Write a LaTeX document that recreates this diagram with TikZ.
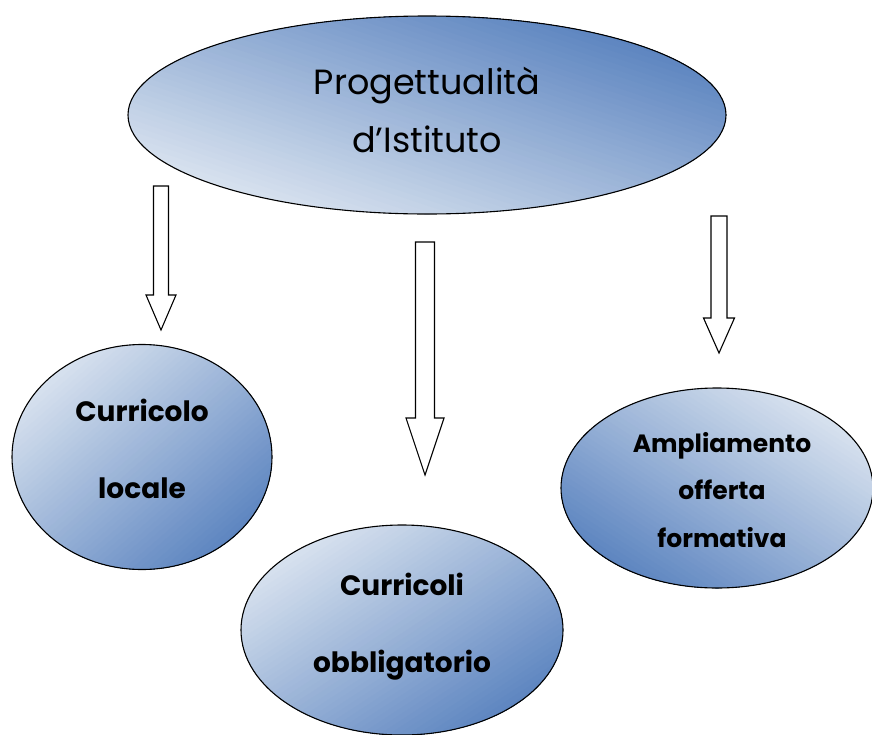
\documentclass[tikz,border=0pt]{standalone}
\usepackage{fontspec}
\setmainfont{Poppins}
\usetikzlibrary{shapes.geometric,calc}
\definecolor{lightblue}{RGB}{216,226,239}
\definecolor{darkblue}{RGB}{93,133,192}
\newcommand{\hollowarrow}[5]{%
  \draw[blockline] ($(#1)+(-#3,0)$) -- ($(#1)+(#3,0)$) -- ($(#2)+(#3,-#5)$)
    -- ($(#2)+(#4,-#5)$) -- (#2) -- ($(#2)+(-#4,-#5)$) -- ($(#2)+(-#3,-#5)$) -- cycle;}
% gradient fill of an ellipse: #1 centre, #2 x radius, #3 y radius, #4 angle towards dark
\newcommand{\gradellipse}[4]{%
  \begin{scope}
    \clip (#1) ellipse [x radius=#2, y radius=#3];
    \begin{scope}[shift={(#1)}, xscale=#2, yscale=#3, rotate=#4]
      \fill[lightblue] (-2,-2) rectangle (2,2);
      \foreach \gK in {1,...,48}{
        \pgfmathsetmacro\gT{-1+2*(\gK-0.5)/48}
        \pgfmathsetmacro\gP{100*\gK/48}
        \fill[darkblue!\gP!lightblue] (\gT,-2) rectangle (2,2);
      }
    \end{scope}
  \end{scope}}
\begin{document}
\begin{tikzpicture}[x=1pt,y=-1pt,
  bubble/.style={ellipse, draw=black, line width=1.1pt, inner sep=0pt},
  blockline/.style={draw=black, line width=1.1pt, fill=white, line join=miter},
  bigtext/.style={align=center, font=\fontsize{35}{58}\selectfont},
  small/.style={align=center, font=\fontsize{28}{77}\selectfont\bfseries},
  tight/.style={align=center, font=\fontsize{25}{47.5}\selectfont\bfseries}]
\useasboundingbox (0,0) rectangle (872,734);
\clip (0,0) rectangle (872,734);
\coordinate (topc) at (427,115);
\coordinate (locc) at (142,457);
\coordinate (obbc) at (402,630);
\coordinate (ampc) at (717,488);
\gradellipse{topc}{299}{99}{45}
\gradellipse{locc}{130}{112.5}{-45}
\gradellipse{obbc}{161}{105}{-45}
\gradellipse{ampc}{156}{100}{-135}
\node[bubble, minimum width=598pt, minimum height=198pt] (top) at (topc) {};
\node[bigtext] (toptext) at ($(top.center)+(0,-5)$) {Progettualità\\d'Istituto};
\node[bubble, minimum width=260pt, minimum height=225pt] (loc) at (locc) {};
\node[small] (loctext) at ($(loc.center)+(0,-8)$) {Curricolo\\locale};
\node[bubble, minimum width=322pt, minimum height=210pt] (obb) at (obbc) {};
\node[small] (obbtext) at ($(obb.center)+(0,-3)$) {Curricoli\\obbligatorio};
\node[bubble, minimum width=312pt, minimum height=200pt] (amp) at (ampc) {};
\node[tight] (amptext) at ($(amp.center)+(5,2)$) {Ampliamento\\offerta\\formativa};
\coordinate (a1t) at (161,186); \coordinate (a1h) at (161,330);
\coordinate (a2t) at (425,242); \coordinate (a2h) at (425,475);
\coordinate (a3t) at (719,216); \coordinate (a3h) at (719,353);
\hollowarrow{a1t}{a1h}{7.5}{15}{35}
\hollowarrow{a2t}{a2h}{9.5}{19}{57}
\hollowarrow{a3t}{a3h}{8}{15.5}{35}
\end{tikzpicture}
\end{document}
